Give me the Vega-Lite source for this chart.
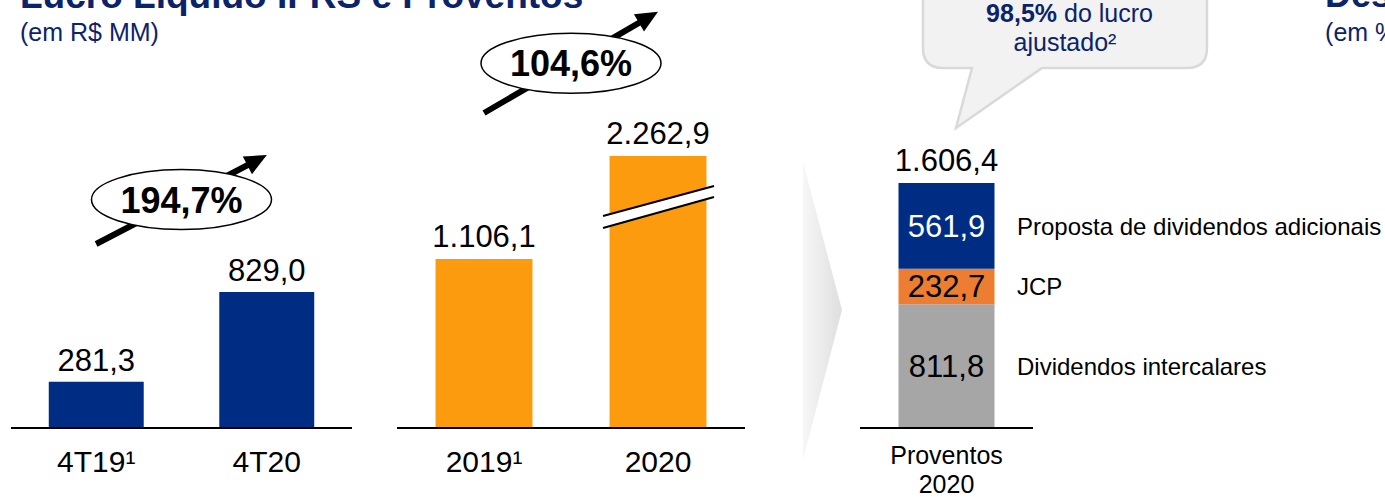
{
  "$schema": "https://vega.github.io/schema/vega-lite/v6.json",
  "width": 1385,
  "height": 497,
  "autosize": {"type": "none"},
  "padding": 0,
  "background": "white",
  "config": {
    "view": {"stroke": null},
    "font": "Liberation Sans",
    "locale": {"number": {"decimal": ",", "thousands": ".", "grouping": [3], "currency": ["R$ ", ""]}}
  },
  "resolve": {
    "scale": {"x": "independent", "y": "independent", "color": "independent"},
    "axis": {"x": "independent", "y": "independent"}
  },
  "layer": [
    {
      "data": {"values": [{"periodo": "4T19", "valor": 281.3}, {"periodo": "4T20", "valor": 829.0}]},
      "layer": [
        {
          "mark": {"type": "bar", "color": "#002D84"},
          "encoding": {
            "x": {"field": "periodo", "type": "nominal", "sort": null,
              "scale": {"domain": ["4T19", "4T20"], "range": [11, 352], "paddingInner": 0.443, "paddingOuter": 0.2215}, "axis": null},
            "y": {"field": "valor", "type": "quantitative", "scale": {"domain": [0, 1000], "range": [428, 264], "nice": false}, "axis": null}
          }
        },
        {
          "data": {"values": [{}]},
          "mark": {"type": "point", "shape": "M-1,0L1,0", "size": 116281, "filled": false, "stroke": "#000", "strokeWidth": 2, "opacity": 1},
          "encoding": {
            "x": {"datum": "4T19", "type": "nominal", "bandPosition": 1.3976, "axis": null},
            "y": {"datum": 0, "type": "quantitative", "axis": null}
          }
        },
        {
          "mark": {"type": "text", "fontSize": 30, "color": "#000", "baseline": "top", "dy": 20},
          "encoding": {
            "x": {"field": "periodo", "type": "nominal", "axis": null},
            "y": {"datum": 0, "type": "quantitative", "axis": null},
            "text": {"condition": {"test": "datum.periodo === '4T19'", "value": "4T19¹"}, "field": "periodo"}
          }
        },
        {
          "mark": {"type": "text", "fontSize": 31, "color": "#000", "baseline": "alphabetic", "dy": -11},
          "encoding": {
            "x": {"field": "periodo", "type": "nominal", "axis": null},
            "y": {"field": "valor", "type": "quantitative", "axis": null},
            "text": {"field": "valor", "type": "quantitative", "format": ",.1f"}
          }
        },
        {
          "data": {"values": [{}]},
          "mark": {"type": "point", "shape": "M-0.9625,-0.03L0.7425,-0.03L0.7425,-0.1L0.9625,0L0.7425,0.1L0.7425,0.03L-0.9625,0.03Z", "size": 40000, "angle": -27.5, "filled": true, "fill": "#000", "opacity": 1},
          "encoding": {
            "x": {"datum": "4T19", "type": "nominal", "bandPosition": 1.3976, "axis": null},
            "y": {"datum": 1393, "type": "quantitative", "axis": null}
          }
        },
        {
          "data": {"values": [{}]},
          "mark": {"type": "point", "shape": "M-1,0A1,0.3333,0,1,0,1,0A1,0.3333,0,1,0,-1,0Z", "size": 32400, "filled": true, "fill": "#fff", "stroke": "#000", "strokeWidth": 1.5, "opacity": 1},
          "encoding": {
            "x": {"datum": "4T19", "type": "nominal", "bandPosition": 1.3976, "axis": null},
            "y": {"datum": 1393, "type": "quantitative", "axis": null}
          }
        },
        {
          "data": {"values": [{}]},
          "mark": {"type": "text", "text": "194,7%", "fontSize": 36, "fontWeight": "bold", "color": "#000", "baseline": "middle", "dy": 2},
          "encoding": {
            "x": {"datum": "4T19", "type": "nominal", "bandPosition": 1.3976, "axis": null},
            "y": {"datum": 1393, "type": "quantitative", "axis": null}
          }
        },
        {
          "data": {"values": [{}]},
          "mark": {"type": "text", "text": "Lucro Líquido IFRS e Proventos", "fontSize": 37, "fontWeight": "bold", "color": "#0C2369", "align": "left", "baseline": "alphabetic"},
          "encoding": {
            "x": {"datum": "4T19", "type": "nominal", "bandPosition": -0.3029, "axis": null},
            "y": {"datum": 2561, "type": "quantitative", "axis": null}
          }
        },
        {
          "data": {"values": [{}]},
          "mark": {"type": "text", "text": "(em R$ MM)", "fontSize": 25, "color": "#0C2369", "align": "left", "baseline": "alphabetic"},
          "encoding": {
            "x": {"datum": "4T19", "type": "nominal", "bandPosition": -0.3029, "axis": null},
            "y": {"datum": 2361.6, "type": "quantitative", "axis": null}
          }
        }
      ]
    },
    {
      "data": {"values": [{"ano": "2019", "valor": 1106.1}, {"ano": "2020", "valor": 2262.9}]},
      "layer": [
        {
          "mark": {"type": "bar", "color": "#FD9B0E"},
          "encoding": {
            "x": {"field": "ano", "type": "nominal", "sort": null,
              "scale": {"domain": ["2019", "2020"], "range": [397, 745], "paddingInner": 0.443, "paddingOuter": 0.2215}, "axis": null},
            "y": {"field": "valor", "type": "quantitative", "scale": {"domain": [0, 1300, 2400], "range": [428, 229.36, 145.56], "nice": false}, "axis": null}
          }
        },
        {
          "data": {"values": [{}]},
          "mark": {"type": "point", "shape": "M-1,0L1,0", "size": 121104, "filled": false, "stroke": "#000", "strokeWidth": 2, "opacity": 1},
          "encoding": {
            "x": {"datum": "2019", "type": "nominal", "bandPosition": 1.3977, "axis": null},
            "y": {"datum": 0, "type": "quantitative", "axis": null}
          }
        },
        {
          "mark": {"type": "text", "fontSize": 30, "color": "#000", "baseline": "top", "dy": 20},
          "encoding": {
            "x": {"field": "ano", "type": "nominal", "axis": null},
            "y": {"datum": 0, "type": "quantitative", "axis": null},
            "text": {"condition": {"test": "datum.ano === '2019'", "value": "2019¹"}, "field": "ano"}
          }
        },
        {
          "mark": {"type": "text", "fontSize": 31, "color": "#000", "baseline": "alphabetic", "dy": -12},
          "encoding": {
            "x": {"field": "ano", "type": "nominal", "axis": null},
            "y": {"field": "valor", "type": "quantitative", "axis": null},
            "text": {"field": "valor", "type": "quantitative", "format": ",.1f"}
          }
        },
        {
          "data": {"values": [{}]},
          "mark": {"type": "point", "shape": "M-0.948,0.1595L0.966,-0.3578L0.966,-0.1681L-0.948,0.3664Z", "size": 13456, "filled": true, "fill": "#fff", "strokeWidth": 0, "opacity": 1},
          "encoding": {
            "x": {"datum": "2020", "type": "nominal", "bandPosition": 0.5, "axis": null},
            "y": {"datum": 1597.3, "type": "quantitative", "axis": null}
          }
        },
        {
          "data": {"values": [{}]},
          "mark": {"type": "point", "shape": "M-0.948,0.1595L0.966,-0.3578M-0.948,0.3664L0.966,-0.1681", "size": 13456, "filled": false, "stroke": "#000", "strokeWidth": 2, "opacity": 1},
          "encoding": {
            "x": {"datum": "2020", "type": "nominal", "bandPosition": 0.5, "axis": null},
            "y": {"datum": 1597.3, "type": "quantitative", "axis": null}
          }
        },
        {
          "data": {"values": [{}]},
          "mark": {"type": "point", "shape": "M-1.0065,-0.03L0.7865,-0.03L0.7865,-0.1L1.0065,0L0.7865,0.1L0.7865,0.03L-1.0065,0.03Z", "size": 40000, "angle": -30.2, "filled": true, "fill": "#000", "opacity": 1},
          "encoding": {
            "x": {"datum": "2019", "type": "nominal", "bandPosition": 1.3977, "axis": null},
            "y": {"datum": 3492, "type": "quantitative", "axis": null}
          }
        },
        {
          "data": {"values": [{}]},
          "mark": {"type": "point", "shape": "M-1,0A1,0.3333,0,1,0,1,0A1,0.3333,0,1,0,-1,0Z", "size": 32400, "filled": true, "fill": "#fff", "stroke": "#000", "strokeWidth": 1.5, "opacity": 1},
          "encoding": {
            "x": {"datum": "2019", "type": "nominal", "bandPosition": 1.3977, "axis": null},
            "y": {"datum": 3480, "type": "quantitative", "axis": null}
          }
        },
        {
          "data": {"values": [{}]},
          "mark": {"type": "text", "text": "104,6%", "fontSize": 36, "fontWeight": "bold", "color": "#000", "baseline": "middle", "dy": 2},
          "encoding": {
            "x": {"datum": "2019", "type": "nominal", "bandPosition": 1.3977, "axis": null},
            "y": {"datum": 3480, "type": "quantitative", "axis": null}
          }
        }
      ]
    },
    {
      "data": {"values": [
        {"grupo": "Proventos 2020", "componente": "Dividendos intercalares", "valor": 811.8},
        {"grupo": "Proventos 2020", "componente": "JCP", "valor": 232.7},
        {"grupo": "Proventos 2020", "componente": "Proposta de dividendos adicionais", "valor": 561.9}
      ]},
      "layer": [
        {
          "data": {"values": [{}]},
          "mark": {"type": "point", "shape": "M-0.13,-0.9933L0.13,-0.0067L-0.13,0.9933Z", "size": 90000, "filled": true, "opacity": 1, "strokeWidth": 0,
            "fill": {"gradient": "linear", "x1": 0, "y1": 0, "x2": 1, "y2": 0, "stops": [{"offset": 0, "color": "#f7f7f7"}, {"offset": 1, "color": "#dedede"}]}},
          "encoding": {
            "x": {"datum": "Proventos 2020", "type": "nominal", "bandPosition": -0.7917, "axis": null},
            "y": {"datum": 767.2, "type": "quantitative", "axis": null}
          }
        },
        {
          "mark": {"type": "bar"},
          "encoding": {
            "x": {"field": "grupo", "type": "nominal",
              "scale": {"domain": ["Proventos 2020"], "range": [860, 1033], "paddingInner": 0.443, "paddingOuter": 0.2233}, "axis": null},
            "y": {"field": "valor", "type": "quantitative", "stack": "zero", "scale": {"domain": [0, 1000], "range": [428, 275.5], "nice": false}, "axis": null},
            "color": {"field": "componente", "type": "nominal",
              "scale": {"domain": ["Dividendos intercalares", "JCP", "Proposta de dividendos adicionais"], "range": ["#A6A6A6", "#ED7D31", "#002D84"]}, "legend": null},
            "order": {"field": "componente", "sort": "ascending"}
          }
        },
        {
          "data": {"values": [{}]},
          "mark": {"type": "point", "shape": "M-1,0L1,0", "size": 29929, "filled": false, "stroke": "#000", "strokeWidth": 2, "opacity": 1},
          "encoding": {
            "x": {"datum": "Proventos 2020", "type": "nominal", "bandPosition": 0.5, "axis": null},
            "y": {"datum": 0, "type": "quantitative", "axis": null}
          }
        },
        {
          "data": {"values": [{}]},
          "mark": {"type": "text", "fontSize": 25, "color": "#000", "baseline": "top", "dy": 16, "lineBreak": " ", "lineHeight": 29},
          "encoding": {
            "x": {"datum": "Proventos 2020", "type": "nominal", "bandPosition": 0.5, "axis": null},
            "y": {"datum": 0, "type": "quantitative", "axis": null},
            "text": {"datum": "Proventos 2020"}
          }
        },
        {
          "mark": {"type": "text", "fontSize": 31, "baseline": "middle", "dy": 2},
          "encoding": {
            "x": {"field": "grupo", "type": "nominal", "axis": null},
            "y": {"field": "valor", "type": "quantitative", "stack": "zero", "bandPosition": 0.5, "axis": null},
            "detail": {"field": "componente"},
            "order": {"field": "componente", "sort": "ascending"},
            "text": {"field": "valor", "type": "quantitative", "format": ",.1f"},
            "color": {"condition": {"test": "datum.componente === 'Proposta de dividendos adicionais'", "value": "#ffffff"}, "value": "#000000"}
          }
        },
        {
          "mark": {"type": "text", "fontSize": 24, "baseline": "middle", "align": "left", "dy": 2, "color": "#000"},
          "encoding": {
            "x": {"field": "grupo", "type": "nominal", "bandPosition": 1.234, "axis": null},
            "y": {"field": "valor", "type": "quantitative", "stack": "zero", "bandPosition": 0.5, "axis": null},
            "detail": {"field": "componente"},
            "order": {"field": "componente", "sort": "ascending"},
            "text": {"field": "componente"}
          }
        },
        {
          "mark": {"type": "text", "fontSize": 31, "color": "#000", "baseline": "alphabetic", "dy": -12},
          "encoding": {
            "x": {"field": "grupo", "type": "nominal", "axis": null},
            "y": {"aggregate": "sum", "field": "valor", "type": "quantitative", "axis": null},
            "text": {"aggregate": "sum", "field": "valor", "type": "quantitative", "format": ",.1f"}
          }
        },
        {
          "data": {"values": [{}]},
          "mark": {"type": "point", "shape": "M-0.9467,-0.5267L0.9467,-0.5267L0.9467,-0.0067Q0.9467,0.1267,0.8133,0.1267L-0.1533,0.1267L-0.7267,0.5267L-0.62,0.1267L-0.8133,0.1267Q-0.9467,0.1267,-0.9467,-0.0067Z",
            "size": 90000, "filled": true, "fill": "#F2F2F2", "stroke": "#D9D9D9", "strokeWidth": 2.5, "opacity": 1},
          "encoding": {
            "x": {"datum": "Proventos 2020", "type": "nominal", "bandPosition": 1.734, "axis": null},
            "y": {"datum": 2485.2, "type": "quantitative", "axis": null}
          }
        },
        {
          "data": {"values": [{}]},
          "mark": {"type": "text", "text": "98,5%", "fontSize": 25, "fontWeight": "bold", "color": "#0C2369", "align": "right", "baseline": "alphabetic"},
          "encoding": {
            "x": {"datum": "Proventos 2020", "type": "nominal", "bandPosition": 1.651, "axis": null},
            "y": {"datum": 2662, "type": "quantitative", "axis": null}
          }
        },
        {
          "data": {"values": [{}]},
          "mark": {"type": "text", "text": "do lucro", "fontSize": 25, "color": "#0C2369", "align": "left", "baseline": "alphabetic", "dx": 7},
          "encoding": {
            "x": {"datum": "Proventos 2020", "type": "nominal", "bandPosition": 1.651, "axis": null},
            "y": {"datum": 2662, "type": "quantitative", "axis": null}
          }
        },
        {
          "data": {"values": [{}]},
          "mark": {"type": "text", "text": "ajustado²", "fontSize": 25, "color": "#0C2369", "align": "center", "baseline": "alphabetic"},
          "encoding": {
            "x": {"datum": "Proventos 2020", "type": "nominal", "bandPosition": 1.734, "axis": null},
            "y": {"datum": 2470.2, "type": "quantitative", "axis": null}
          }
        },
        {
          "data": {"values": [{}]},
          "mark": {"type": "text", "text": "Destaques", "fontSize": 36, "fontWeight": "bold", "color": "#0C2369", "align": "left", "baseline": "alphabetic"},
          "encoding": {
            "x": {"datum": "Proventos 2020", "type": "nominal", "bandPosition": 4.443, "axis": null},
            "y": {"datum": 2760.7, "type": "quantitative", "axis": null}
          }
        },
        {
          "data": {"values": [{}]},
          "mark": {"type": "text", "text": "(em %)", "fontSize": 25, "color": "#0C2369", "align": "left", "baseline": "alphabetic"},
          "encoding": {
            "x": {"datum": "Proventos 2020", "type": "nominal", "bandPosition": 4.443, "axis": null},
            "y": {"datum": 2539.7, "type": "quantitative", "axis": null}
          }
        }
      ]
    }
  ]
}
